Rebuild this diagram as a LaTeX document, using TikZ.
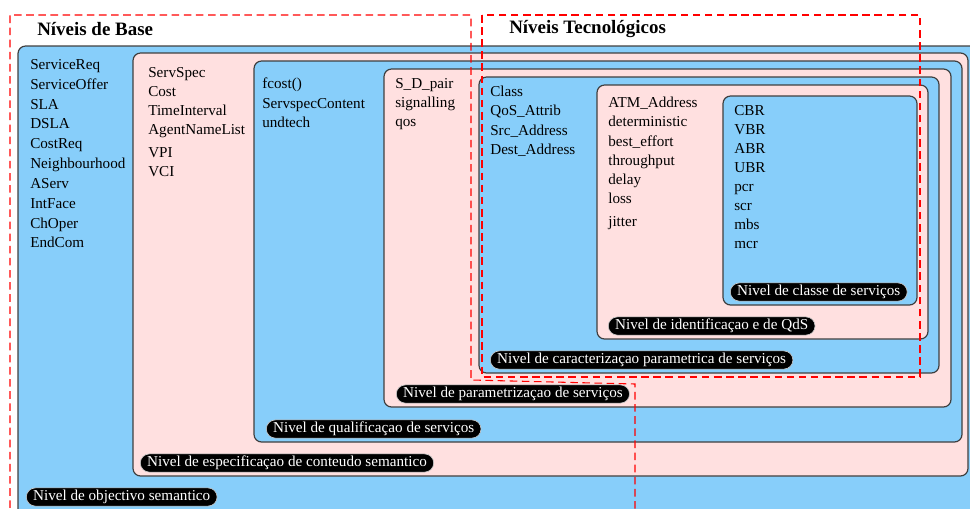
\documentclass[tikz,border=0pt]{standalone}
\usepackage{fontspec}
\setmainfont{Liberation Serif}
\usepackage{tikz}

\definecolor{nivblue}{RGB}{135,206,250}
\definecolor{nivpink}{RGB}{255,224,224}

\tikzset{
    bluebox/.style={fill=nivblue, draw=black!75, line width=0.8pt, rounded corners=5pt},
    pinkbox/.style={fill=nivpink, draw=black!75, line width=0.8pt, rounded corners=5pt},
    items/.style={anchor=north west, align=left, inner sep=0pt, font=\fontsize{10}{12.6}\selectfont},
    pill/.style={anchor=west, fill=black, draw=black!20, text=white, rounded corners=6pt,
        inner xsep=4.5pt, inner ysep=1pt, text height=7.5pt, text depth=2.5pt,
        font=\fontsize{10}{12}\selectfont},
    heading/.style={anchor=west, inner sep=0pt, font=\fontsize{12.5}{14}\selectfont\bfseries},
    zone/.style={draw=red, dash pattern=on 5pt off 3pt, line width=0.7pt}
}

\begin{document}
\begin{tikzpicture}[x=0.66pt, y=-0.66pt]
    \useasboundingbox (0,0) rectangle (970,508);
    \clip (0,0) rectangle (970,508);

    % Nested levels, outermost first
    \draw[bluebox] (18,46) rectangle (1000,540);
    \draw[pinkbox] (133,53) rectangle (968,476);
    \draw[bluebox] (254,61) rectangle (962,442);
    \draw[pinkbox] (384,69) rectangle (951,407);
    \draw[bluebox] (479,77) rectangle (939,373);
    \draw[pinkbox] (597,85) rectangle (928,339);
    \draw[bluebox] (723,96) rectangle (917,305);

    % Contents of each level
    \node[items, font=\fontsize{10}{13.1}\selectfont] (objectivo) at (30,59)
        {ServiceReq\\ServiceOffer\\SLA\\DSLA\\CostReq\\Neighbourhood\\AServ\\IntFace\\ChOper\\EndCom};
    \node[items] (especificacao) at (148,67)
        {ServSpec\\Cost\\TimeInterval\\AgentNameList\\[2.6pt]VPI\\VCI};
    \node[items] (qualificacao) at (262,78) {fcost()\\ServspecContent\\undtech};
    \node[items] (parametrizacao) at (395,78) {S\_D\_pair\\signalling\\qos};
    \node[items] (caracterizacao) at (490,86) {Class\\QoS\_Attrib\\Src\_Address\\Dest\_Address};
    \node[items] (identificacao) at (608,97)
        {ATM\_Address\\deterministic\\best\_effort\\throughput\\delay\\loss\\[2.6pt]jitter};
    \node[items] (classe) at (734,105) {CBR\\VBR\\ABR\\UBR\\pcr\\scr\\mbs\\mcr};

    % Level names
    \node[pill] (lblobjectivo) at (26,497) {Nivel de objectivo semantico};
    \node[pill] (lblespecificacao) at (140,463) {Nivel de especificaçao de conteudo semantico};
    \node[pill] (lblqualificacao) at (266,429) {Nivel de qualificaçao de serviços};
    \node[pill] (lblparametrizacao) at (396,394) {Nivel de parametrizaçao de serviços};
    \node[pill] (lblcaracterizacao) at (490,360) {Nivel de caracterizaçao parametrica de serviços};
    \node[pill] (lblidentificacao) at (608,326) {Nivel de identificaçao e de QdS};
    \node[pill] (lblclasse) at (730,292) {Nivel de classe de serviços};

    % Groupings
    \draw[zone] (10,520) -- (10,15) -- (471,15) -- (471,380) -- (635,384) -- (635,520);
    \draw[zone] (482,15) rectangle (920,377);
    \node[heading] (base) at (37,29) {Níveis de Base};
    \node[heading] (tecnologicos) at (509,29) {Níveis Tecnológicos};
\end{tikzpicture}
\end{document}
